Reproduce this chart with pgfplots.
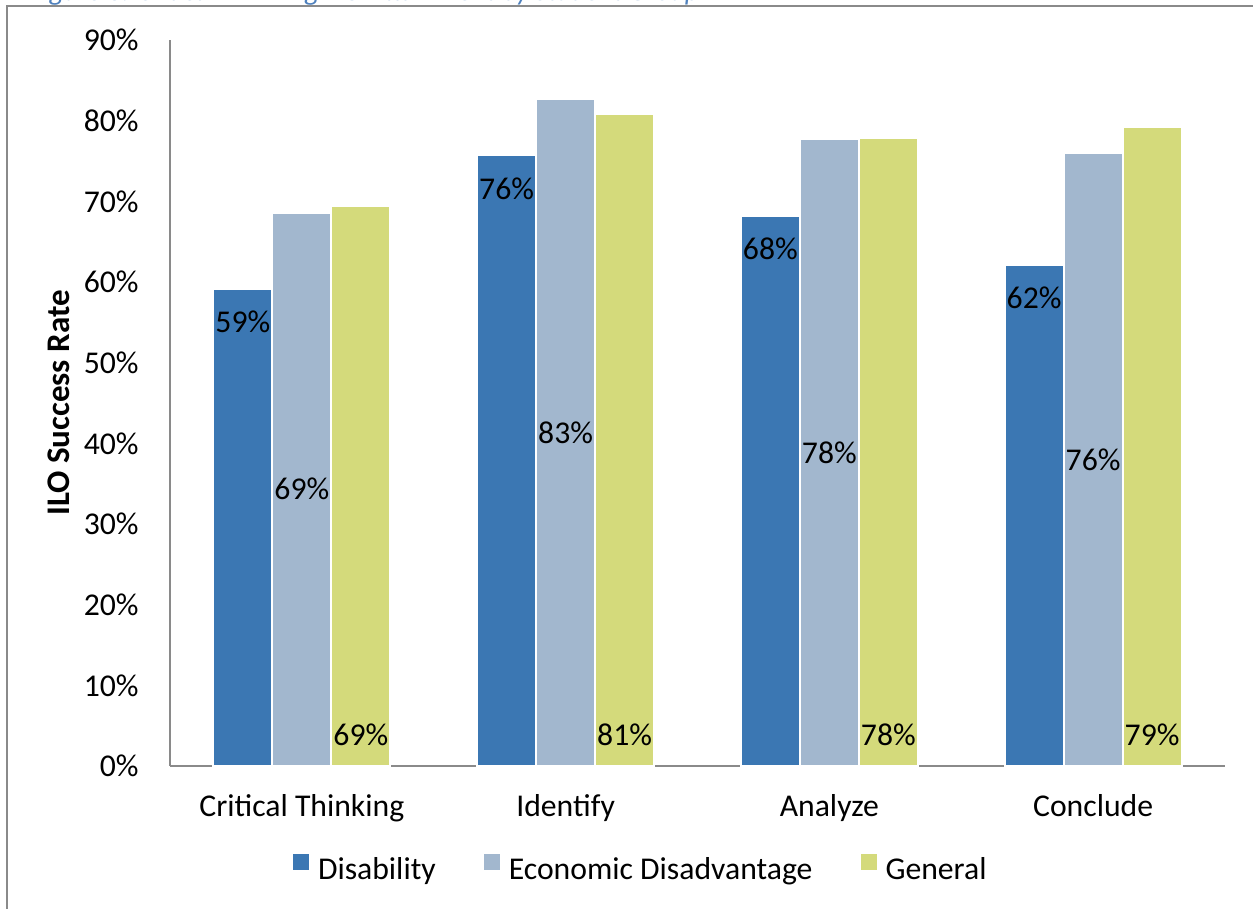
\documentclass[border=0pt]{standalone}
\usepackage{fontspec}
\setmainfont{Carlito}
\usepackage{pgfplots}
\pgfplotsset{compat=1.18}
\definecolor{cDis}{HTML}{3B77B3}
\definecolor{cEco}{HTML}{A2B7CE}
\definecolor{cGen}{HTML}{D4DA7B}
\definecolor{axgray}{HTML}{8A8A8A}
\definecolor{ttl}{HTML}{4F81BD}
\newcommand{\lbl}{\fontsize{15.85}{19}\selectfont}
\begin{document}
\begin{tikzpicture}
\useasboundingbox (0,0) rectangle (626.5pt,454.5pt);
\clip (0,0) rectangle (626.5pt,454.5pt);
\fill[white] (0,0) rectangle (626.5pt,454.5pt);
\draw[axgray, line width=0.8pt] (3.5pt,-5pt) -- (3.5pt,451.5pt) -- (640pt,451.5pt);
\node[anchor=base west, text=ttl, font=\fontsize{14}{17}\selectfont\itshape, inner sep=0pt] at (15pt,454.3pt) {Figure 3: Critical Thinking ILO Attainment by Student Group};
\begin{axis}[
  at={(85pt,71.5pt)}, anchor=south west, scale only axis,
  width=527.5pt, height=363pt,
  xmin=-0.5, xmax=3.5, ymin=0, ymax=90,
  axis x line=bottom, axis y line=left,
  axis line style={axgray, line width=0.75pt, -},
  ybar=0pt, bar width=29.5pt,
  xtick={0,1,2,3},
  xticklabels={Critical Thinking, Identify, Analyze, Conclude},
  ytick={0,10,20,30,40,50,60,70,80,90},
  yticklabels={0\%,10\%,20\%,30\%,40\%,50\%,60\%,70\%,80\%,90\%},
  major tick length=0pt,
  tick label style={font=\lbl, text=black},
  yticklabel style={anchor=east, inner sep=0pt, xshift=-15.5pt},
  xticklabel style={anchor=base, inner sep=0pt, yshift=-25.5pt},
  ylabel={ILO Success Rate},
  ylabel style={font=\fontsize{16.5}{20}\selectfont\bfseries, at={([xshift=-55.5pt]axis description cs:0,0.5)}, anchor=center},
  clip=false,
  /pgf/number format/assume math mode=true,
  nodes near coords={\pgfmathprintnumber[fixed,precision=0,assume math mode=true]{\pgfplotspointmeta}\%},
  every node near coord/.append style={font=\lbl, text=black},
  visualization depends on=rawy\as\rawy,
  legend image code/.code={\fill[#1, draw=none] (0pt,0pt) rectangle (8pt,8pt);},
  legend columns=-1,
  legend style={draw=none, fill=none, inner sep=0pt, outer sep=0pt, font=\lbl,
    at={(axis description cs:0.1166,-0.1413)}, anchor=west,
    nodes={inner sep=0pt},
    /tikz/every odd column/.append style={column sep=4.5pt},
    /tikz/every even column/.append style={column sep=24pt}},
]
\addplot[fill=cDis, draw=white, line width=1pt,
  every node near coord/.append style={anchor=center, yshift=-16.5pt}]
  coordinates {(0,59.1) (1,75.7) (2,68.2) (3,62.1)};
\addlegendentry{Disability}
\addplot[fill=cEco, draw=white, line width=1pt,
  every node near coord/.append style={anchor=center, shift={(axis direction cs:0,-\rawy/2)}}]
  coordinates {(0,68.6) (1,82.7) (2,77.7) (3,76.0)};
\addlegendentry{Economic Disadvantage}
\addplot[fill=cGen, draw=white, line width=1pt,
  every node near coord/.append style={anchor=center, shift={(axis direction cs:0,-\rawy)}, yshift=15.5pt}]
  coordinates {(0,69.4) (1,80.8) (2,77.9) (3,79.2)};
\addlegendentry{General}
\end{axis}
\end{tikzpicture}
\end{document}
